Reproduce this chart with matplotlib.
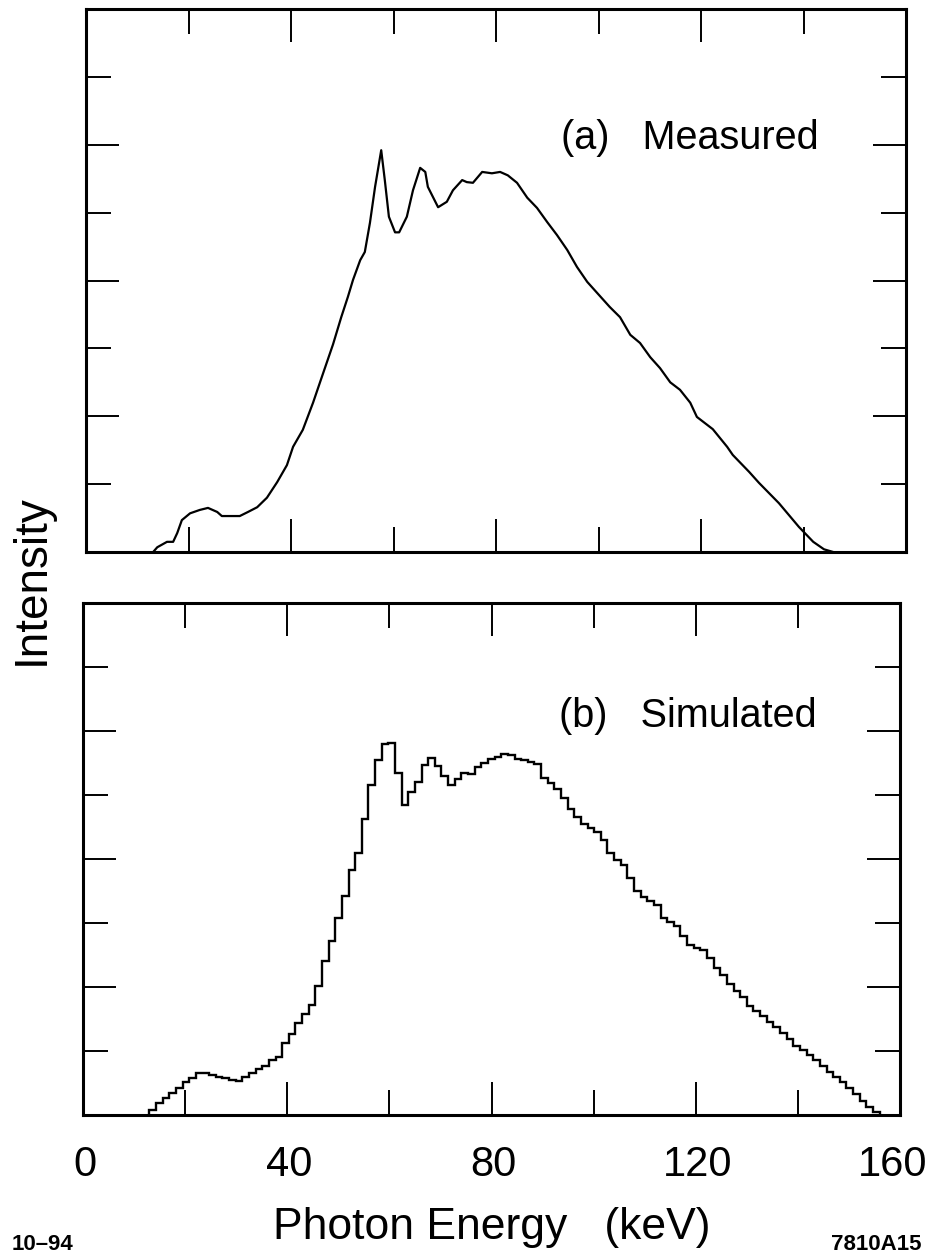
import numpy as np
import matplotlib.pyplot as plt

plt.rcParams['font.family'] = ['Liberation Sans', 'DejaVu Sans']

# (a) measured spectrum (keV, intensity in tick units)
meas_energy = [13.1, 13.9, 15.8, 17.0, 17.8, 18.7, 20.3, 22.2, 23.8, 25.6,
               26.5, 30.0, 31.6, 33.4, 35.3, 37.3, 39.2, 40.4, 42.3, 44.3,
               46.2, 48.2, 49.8, 51.1, 52.1, 53.5, 54.4, 55.4, 56.4, 57.6,
               58.3, 59.1, 60.3, 61.1, 62.6, 63.8, 65.2, 66.2, 66.7, 67.7,
               68.7, 70.4, 71.6, 73.4, 74.3, 75.5, 77.3, 79.2, 80.8, 82.3,
               84.1, 86.1, 88.0, 90.0, 91.9, 93.9, 95.8, 97.8, 99.7, 102.2,
               104.2, 106.2, 108.1, 110.1, 112.0, 114.0, 115.9, 117.9, 119.2, 122.3,
               125.1, 126.2, 129.4, 131.3, 135.2, 139.1, 141.9, 144.0, 145.8]
meas_intensity = [0, 0.07, 0.15, 0.15, 0.28, 0.47, 0.57, 0.62, 0.65, 0.59,
                  0.53, 0.53, 0.59, 0.66, 0.80, 1.03, 1.28, 1.55, 1.80, 2.20,
                  2.62, 3.06, 3.46, 3.76, 4.01, 4.30, 4.42, 4.85, 5.38, 5.92,
                  5.48, 4.94, 4.71, 4.71, 4.94, 5.33, 5.66, 5.60, 5.38, 5.23,
                  5.08, 5.16, 5.33, 5.48, 5.45, 5.44, 5.60, 5.58, 5.60, 5.55,
                  5.44, 5.22, 5.07, 4.86, 4.67, 4.45, 4.20, 3.98, 3.82, 3.61,
                  3.46, 3.20, 3.08, 2.87, 2.71, 2.50, 2.39, 2.20, 1.99, 1.81,
                  1.55, 1.43, 1.18, 1.02, 0.72, 0.37, 0.15, 0.04, 0]

# (b) simulated spectrum, histogram with 1.3 keV bins starting at 13 keV
sim_start = 13.0
sim_width = 1.3
sim_counts = [0.08, 0.19, 0.27, 0.34, 0.42, 0.52, 0.58, 0.65, 0.66, 0.62,
              0.60, 0.57, 0.54, 0.53, 0.59, 0.66, 0.72, 0.77, 0.86, 0.90,
              1.12, 1.27, 1.44, 1.58, 1.72, 2.02, 2.40, 2.72, 3.08, 3.42,
              3.82, 4.10, 4.62, 5.15, 5.55, 5.80, 5.82, 5.34, 4.85, 5.05,
              5.20, 5.47, 5.58, 5.45, 5.30, 5.15, 5.25, 5.35, 5.33, 5.44,
              5.50, 5.56, 5.59, 5.64, 5.62, 5.57, 5.55, 5.51, 5.48, 5.27,
              5.18, 5.10, 4.95, 4.78, 4.65, 4.55, 4.48, 4.42, 4.30, 4.10,
              3.98, 3.90, 3.70, 3.50, 3.40, 3.35, 3.28, 3.08, 3.02, 2.96,
              2.80, 2.66, 2.61, 2.57, 2.45, 2.30, 2.18, 2.05, 1.93, 1.84,
              1.70, 1.62, 1.55, 1.45, 1.38, 1.28, 1.18, 1.08, 1.01, 0.93,
              0.86, 0.76, 0.67, 0.59, 0.51, 0.42, 0.32, 0.22, 0.13, 0.05]

xticks_major = [0, 40, 80, 120, 160]
xticks_minor = [20, 60, 100, 140]
yticks_major = [0, 2, 4, 6, 8]
yticks_minor = [1, 3, 5, 7]

fig = plt.figure(figsize=(9.32, 12.56), dpi=100)
ax1 = fig.add_axes([0.0923, 0.5605, 0.8798, 0.4323])
ax2 = fig.add_axes([0.0891, 0.1123, 0.8766, 0.4076])

for ax in (ax1, ax2):
    ax.set_xlim(0, 160)
    ax.set_ylim(0, 8)
    ax.set_xticks(xticks_major)
    ax.set_xticks(xticks_minor, minor=True)
    ax.set_yticks(yticks_major)
    ax.set_yticks(yticks_minor, minor=True)
    ax.tick_params(which='both', direction='in', top=True, right=True,
                   width=1.4, labelleft=False, labelbottom=False)
    ax.tick_params(which='major', length=24)
    ax.tick_params(which='minor', length=18)
    for s in ax.spines.values():
        s.set_linewidth(2.2)

ax1.plot(meas_energy, meas_intensity, color='black', lw=1.6)

edges = sim_start + sim_width * np.arange(len(sim_counts) + 1)
ax2.stairs(sim_counts, edges, color='black', lw=1.7)

# x tick labels, written by hand so the last one stays inside the page
for x in xticks_major:
    nudge = -1.4 if x == xticks_major[-1] else 0.4
    ax2.text(x + nudge, -50 / 512, str(x), transform=ax2.get_xaxis_transform(),
             fontsize=30, ha='center', va='center', clip_on=False)

fig.text(561 / 932, 1 - 138 / 1256, '(a)   Measured', fontsize=28.5, ha='left', va='center')
fig.text(559 / 932, 1 - 716 / 1256, '(b)   Simulated', fontsize=28.5, ha='left', va='center')
fig.text(32 / 932, 1 - 580 / 1256, 'Intensity', fontsize=33, rotation=90, ha='center', va='center')
fig.text(492 / 932, 1 - 1228 / 1256, 'Photon Energy   (keV)', fontsize=32, ha='center', va='center')
fig.text(12 / 932, 1 - 1245 / 1256, '10–94', fontsize=16, fontweight='bold', ha='left', va='center')
fig.text(921 / 932, 1 - 1245 / 1256, '7810A15', fontsize=16, fontweight='bold', ha='right', va='center')

fig.savefig('out.png', dpi=100)
